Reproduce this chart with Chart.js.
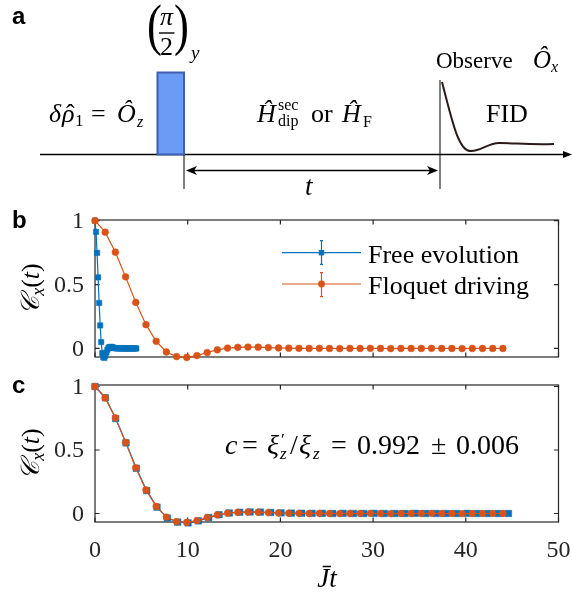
<!DOCTYPE html>
<html>
<head>
<meta charset="utf-8">
<script src="https://cdn.jsdelivr.net/npm/chart.js@4.4.1/dist/chart.umd.min.js"></script>
<style>
  html, body { margin:0; padding:0; background:#fff; }
  #wrap { position:relative; width:572px; height:593px; overflow:hidden; }
  canvas { position:absolute; left:0; }
  #ov { position:absolute; left:0; top:0; pointer-events:none; }
</style>
</head>
<body>
<div id="wrap">
  <canvas id="cb" width="572" height="180" style="top:190px"></canvas>
  <canvas id="cc" width="572" height="223" style="top:370px"></canvas>
  <svg id="ov" width="572" height="593" viewBox="0 0 572 593" font-family="'Liberation Serif', 'DejaVu Serif', serif" fill="#000">
    <!-- panel letters -->
    <text x="12" y="24" font-family="'Liberation Sans', Arial, sans-serif" font-weight="bold" font-size="24">a</text>
    <text x="12" y="228" font-family="'Liberation Sans', Arial, sans-serif" font-weight="bold" font-size="24">b</text>
    <text x="12" y="393" font-family="'Liberation Sans', Arial, sans-serif" font-weight="bold" font-size="24">c</text>

    <!-- panel a schematic -->
    <line x1="40" y1="154.5" x2="565" y2="154.5" stroke="#000" stroke-width="1.5"/>
    <polygon points="572,154.5 563,151 563,158" fill="#000"/>
    <rect x="157.5" y="72.5" width="26.5" height="82" fill="#6A9BF5" stroke="#3D5FAE" stroke-width="2"/>
    <line x1="184" y1="155" x2="184" y2="189" stroke="#000" stroke-width="1"/>
    <line x1="440" y1="80" x2="440" y2="189" stroke="#000" stroke-width="1"/>
    <line x1="192" y1="170.5" x2="432" y2="170.5" stroke="#000" stroke-width="1.5"/>
    <polygon points="186,170.5 197,166 194,170.5 197,175" fill="#000"/>
    <polygon points="438,170.5 427,166 430,170.5 427,175" fill="#000"/>
    <path d="M442,82 C452,120 458,150 470,151 C480,152 488,143 499,143 C515,143 530,145 554,144" fill="none" stroke="#2B1A1A" stroke-width="2"/>

    <text x="147" y="44" font-size="56" transform="translate(147,0) scale(0.8,1) translate(-147,0)">(</text>
    <text x="174" y="44" font-size="56" transform="translate(174,0) scale(0.8,1) translate(-174,0)">)</text>
    <text x="160" y="25" font-size="26" font-style="italic">π</text>
    <line x1="159" y1="33" x2="174.5" y2="33" stroke="#000" stroke-width="1.4"/>
    <text x="160" y="55" font-size="26">2</text>
    <text x="191" y="59" font-size="19" font-style="italic">y</text>

    <text x="436" y="68" font-size="23">Observe</text>
    <text x="533" y="68" font-size="25" font-style="italic">Ô</text>
    <text x="551" y="72" font-size="16" font-style="italic">x</text>

    <text x="49" y="122" font-size="26" font-style="italic">δ</text>
    <text x="62" y="122" font-size="26" font-style="italic">ρ</text>
    <text x="66" y="122" font-size="26">ˆ</text>
    <text x="75" y="126" font-size="17">1</text>
    <text x="91" y="122" font-size="26">=</text>
    <text x="117" y="122" font-size="26" font-style="italic">Ô</text>
    <text x="137" y="127" font-size="16" font-style="italic">z</text>

    <text x="257" y="122" font-size="26" font-style="italic">Ĥ</text>
    <text x="278" y="110" font-size="16">sec</text>
    <text x="278" y="126" font-size="16">dip</text>
    <text x="311" y="122" font-size="26">or</text>
    <text x="342" y="122" font-size="26" font-style="italic">Ĥ</text>
    <text x="363" y="127" font-size="16">F</text>
    <text x="486" y="122" font-size="26">FID</text>
    <text x="305" y="195" font-size="27" font-style="italic">t</text>

    <!-- axis titles -->
    <text transform="translate(39,289) rotate(-90)" text-anchor="middle" font-size="26"><tspan font-style="italic">𝒞</tspan><tspan font-size="18" dy="5" font-style="italic">x</tspan><tspan dy="-5">(</tspan><tspan font-style="italic">t</tspan><tspan>)</tspan></text>
    <text transform="translate(39,454) rotate(-90)" text-anchor="middle" font-size="26"><tspan font-style="italic">𝒞</tspan><tspan font-size="18" dy="5" font-style="italic">x</tspan><tspan dy="-5">(</tspan><tspan font-style="italic">t</tspan><tspan>)</tspan></text>
    <text x="327" y="587" text-anchor="middle" font-size="27" font-style="italic">J̄t</text>

    <!-- annotation panel c -->
    <text x="225" y="454" font-size="28" font-style="italic">c</text>
    <text x="242" y="454" font-size="28">=</text>
    <text x="267" y="454" font-size="28" font-style="italic">ξ</text>
    <text x="281" y="445" font-size="17">′</text>
    <text x="280" y="459" font-size="17" font-style="italic">z</text>
    <text x="290" y="454" font-size="28">/</text>
    <text x="299" y="454" font-size="28" font-style="italic">ξ</text>
    <text x="313" y="459" font-size="17" font-style="italic">z</text>
    <text x="331" y="454" font-size="28">=</text>
    <text x="357" y="454" font-size="28">0.992</text>
    <text x="431" y="454" font-size="28">±</text>
    <text x="456" y="454" font-size="28">0.006</text>
  </svg>
</div>
<script>
// ---------- data ----------
const xTicks = [0, 10, 20, 30, 40, 50];
const yTicks = [0, 0.5, 1];

// Floquet driving (orange)
const tFloquet = [0, 1.1, 2.2, 3.3, 4.4, 5.5, 6.6, 7.7, 8.8, 9.9, 11, 12.1, 13.2, 14.3, 15.4, 16.5, 17.6, 18.7, 19.8, 20.9,
  22, 23.1, 24.2, 25.3, 26.4, 27.5, 28.6, 29.7, 30.8, 31.9, 33, 34.1, 35.2, 36.3, 37.4, 38.5, 39.6, 40.7, 41.8, 42.9, 44];
const cFloquet = [1.000, 0.910, 0.753, 0.560, 0.360, 0.186, 0.056, -0.028, -0.064, -0.070, -0.056, -0.032, -0.011, 0.003, 0.009,
  0.011, 0.010, 0.007, 0.004, 0.002, 0.001, 0.000, 0.001, 0.000, -0.001, 0.000, 0.000, 0.001, 0.000, -0.001,
  0.000, 0.000, 0.000, 0.001, 0.000, 0.000, -0.001, 0.000, 0.000, 0.000, 0.000];

// Free evolution (blue), raw time (panel b)
const tFree = [0, 0.112, 0.223, 0.335, 0.446, 0.558, 0.669, 0.781, 0.892, 1.004, 1.115, 1.227, 1.338, 1.450, 1.561,
  1.673, 1.784, 1.896, 2.007, 2.119, 2.230, 2.342, 2.453, 2.565, 2.676, 2.788, 2.899, 3.011, 3.122, 3.234,
  3.345, 3.457, 3.568, 3.680, 3.791, 3.903, 4.014, 4.126, 4.237, 4.349, 4.460];
// Free evolution, rescaled time (panel c)
const tFreeScaled = [0, 1.12, 2.23, 3.35, 4.46, 5.58, 6.69, 7.81, 8.92, 10.04, 11.15, 12.27, 13.38, 14.50, 15.61,
  16.73, 17.84, 18.96, 20.07, 21.19, 22.30, 23.42, 24.53, 25.65, 26.76, 27.88, 28.99, 30.11, 31.22, 32.34,
  33.45, 34.57, 35.68, 36.80, 37.91, 39.03, 40.14, 41.26, 42.37, 43.49, 44.60];
const cFree = [1.000, 0.912, 0.748, 0.556, 0.356, 0.180, 0.050, -0.036, -0.068, -0.074, -0.058, -0.032, -0.010, 0.004, 0.010,
  0.012, 0.011, 0.008, 0.005, 0.003, 0.002, 0.001, 0.001, 0.000, 0.001, 0.000, 0.000, 0.001, 0.000, 0.000,
  0.000, 0.001, 0.000, 0.000, 0.000, 0.000, 0.001, 0.000, 0.000, 0.000, 0.000];

const legendLabels = ['Free evolution', 'Floquet driving'];

// ---------- styling ----------
const BLUE = '#0072BD';
const ORANGE = '#D95319';
const AXIS = '#262626';
const SERIF = "'Liberation Serif', 'Times New Roman', serif";
Chart.defaults.font.family = SERIF;

function pts(xs, ys) { return xs.map((x, i) => ({ x: x, y: ys[i] })); }

const boxPlugin = {
  id: 'box',
  beforeDatasetsDraw(chart) {
    const { ctx, chartArea: a, scales } = chart;
    ctx.save();
    ctx.strokeStyle = AXIS;
    ctx.lineWidth = 1.2;
    ctx.strokeRect(a.left, a.top, a.right - a.left, a.bottom - a.top);
    const tl = 4.6;
    ctx.beginPath();
    scales.x.ticks.forEach(t => {
      const px = scales.x.getPixelForValue(t.value);
      ctx.moveTo(px, a.bottom); ctx.lineTo(px, a.bottom - tl);
      ctx.moveTo(px, a.top); ctx.lineTo(px, a.top + tl);
    });
    scales.y.ticks.forEach(t => {
      const py = scales.y.getPixelForValue(t.value);
      ctx.moveTo(a.left, py); ctx.lineTo(a.left + tl, py);
      ctx.moveTo(a.right, py); ctx.lineTo(a.right - tl, py);
    });
    ctx.stroke();

    // tick labels, positioned through the scales
    ctx.fillStyle = AXIS;
    ctx.font = "24px " + SERIF;
    ctx.textAlign = 'right';
    ctx.textBaseline = 'middle';
    scales.y.ticks.forEach(t => {
      ctx.fillText(String(t.value), a.left - 11, scales.y.getPixelForValue(t.value) + 1);
    });
    if (chart.canvas.id === 'cc') {
      ctx.textAlign = 'center';
      ctx.textBaseline = 'top';
      scales.x.ticks.forEach(t => {
        ctx.fillText(String(t.value), scales.x.getPixelForValue(t.value), a.bottom + 17);
      });
    }
    ctx.restore();
  }
};

const legendPlugin = {
  id: 'customLegend',
  afterDraw(chart) {
    if (chart.canvas.id !== 'cb') return;
    const ctx = chart.ctx;
    const rows = [
      { color: BLUE, y: 62.7, e0: 50.7, e1: 74.3, style: 'rect', text: legendLabels[0], base: 73 },
      { color: ORANGE, y: 94, e0: 82.7, e1: 106.7, style: 'circle', text: legendLabels[1], base: 104 }
    ];
    ctx.save();
    rows.forEach(r => {
      ctx.strokeStyle = r.color; ctx.fillStyle = r.color; ctx.lineWidth = 1.2;
      ctx.beginPath();
      ctx.moveTo(282, r.y); ctx.lineTo(361, r.y);
      ctx.moveTo(321.5, r.e0); ctx.lineTo(321.5, r.e1);
      ctx.moveTo(320, r.e0); ctx.lineTo(323, r.e0);
      ctx.moveTo(320, r.e1); ctx.lineTo(323, r.e1);
      ctx.stroke();
      if (r.style === 'rect') { ctx.fillRect(318.8, r.y - 2.7, 5.4, 5.4); }
      else { ctx.beginPath(); ctx.arc(321.5, r.y, 3.4, 0, Math.PI * 2); ctx.fill(); }
      ctx.fillStyle = '#000';
      ctx.font = "26px " + SERIF;
      ctx.textBaseline = 'alphabetic';
      ctx.fillText(r.text, 368, r.base);
    });
    ctx.restore();
  }
};

function makeChart(id, datasets, opt) {
  return new Chart(document.getElementById(id), {
    type: 'line',
    data: { datasets: datasets },
    options: {
      responsive: false,
      animation: false,
      devicePixelRatio: 1,
      layout: { padding: { left: 0, right: 13.5, top: opt.padTop, bottom: 0 } },
      plugins: { legend: { display: false }, tooltip: { enabled: false } },
      scales: {
        x: {
          type: 'linear', min: 0, max: 50,
          afterBuildTicks: s => { s.ticks = xTicks.map(v => ({ value: v })); },
          afterFit: s => { s.height = opt.xh; s.paddingLeft = 0; s.paddingRight = 0; s.paddingTop = 0; s.paddingBottom = 0; },
          grid: { display: false }, border: { display: false },
          ticks: { display: false }
        },
        y: {
          type: 'linear', min: opt.ymin, max: opt.ymax,
          afterBuildTicks: s => { s.ticks = yTicks.map(v => ({ value: v })); },
          afterFit: s => { s.width = 95; s.paddingLeft = 0; s.paddingRight = 0; s.paddingTop = 0; s.paddingBottom = 0; },
          grid: { display: false }, border: { display: false },
          ticks: { display: false }
        }
      }
    },
    plugins: [boxPlugin, legendPlugin]
  });
}

makeChart('cb', [
  { label: legendLabels[1], data: pts(tFloquet, cFloquet), borderColor: ORANGE, backgroundColor: ORANGE,
    borderWidth: 1.2, pointStyle: 'circle', pointRadius: 3.4, pointBorderWidth: 0.5, clip: false, tension: 0 },
  { label: legendLabels[0], data: pts(tFree, cFree), borderColor: BLUE, backgroundColor: BLUE,
    borderWidth: 1.2, pointStyle: 'rect', pointRadius: 3.8, pointBorderWidth: 0.5, clip: false, tension: 0 }
], { padTop: 30, xh: 13, ymin: -0.067, ymax: 1.005 });

makeChart('cc', [
  { label: legendLabels[1], data: pts(tFloquet, cFloquet), borderColor: ORANGE, backgroundColor: ORANGE,
    borderWidth: 1.2, pointStyle: 'circle', pointRadius: 3.4, pointBorderWidth: 0.5, clip: false, tension: 0 },
  { label: legendLabels[0], data: pts(tFreeScaled, cFree), borderColor: BLUE, backgroundColor: BLUE,
    borderWidth: 1.2, pointStyle: 'rect', pointRadius: 4.6, pointBorderWidth: 0.5, clip: false, tension: 0 }
], { padTop: 15, xh: 71, ymin: -0.067, ymax: 1.012 });
</script>
</body>
</html>
